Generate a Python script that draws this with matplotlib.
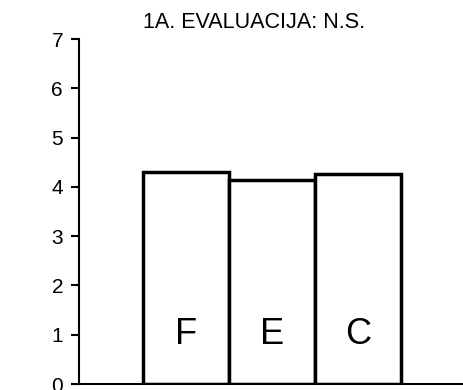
import matplotlib
matplotlib.use("Agg")
import matplotlib.pyplot as plt

plt.rcParams['font.family'] = ['Liberation Sans', 'DejaVu Sans']

categories = ["F", "E", "C"]
values = [4.31, 4.14, 4.26]
yticks = [0, 1, 2, 3, 4, 5, 6, 7]
title = "1A. EVALUACIJA: N.S."

fig = plt.figure(figsize=(4.64, 3.90), dpi=100)
ax = fig.add_axes([79/464, 1-384/390, 1-79/464, (384-39)/390])

x = list(range(len(categories)))
ax.bar(x, values, width=1.0, color="white", edgecolor="black", linewidth=2.5, zorder=2)
for xi, c in zip(x, categories):
    ax.text(xi, 1.0, c, ha="center", va="center", fontsize=26, zorder=3)

ax.set_xlim(-1.244, 3.23)
ax.set_ylim(0, 7)
ax.set_yticks(yticks)
ax.set_yticklabels([str(t) for t in yticks], fontsize=15)
ax.set_xticks([])
for s in ["top", "right"]:
    ax.spines[s].set_visible(False)
ax.spines["left"].set_linewidth(1.5)
ax.spines["bottom"].set_linewidth(1.5)
ax.tick_params(axis="y", length=6, width=1.5, pad=5.5)
ax.set_facecolor("none")

fig.text(254/464, 1-22/390, title, ha="center", va="center", fontsize=15.5)

fig.savefig("out.png", dpi=100)
